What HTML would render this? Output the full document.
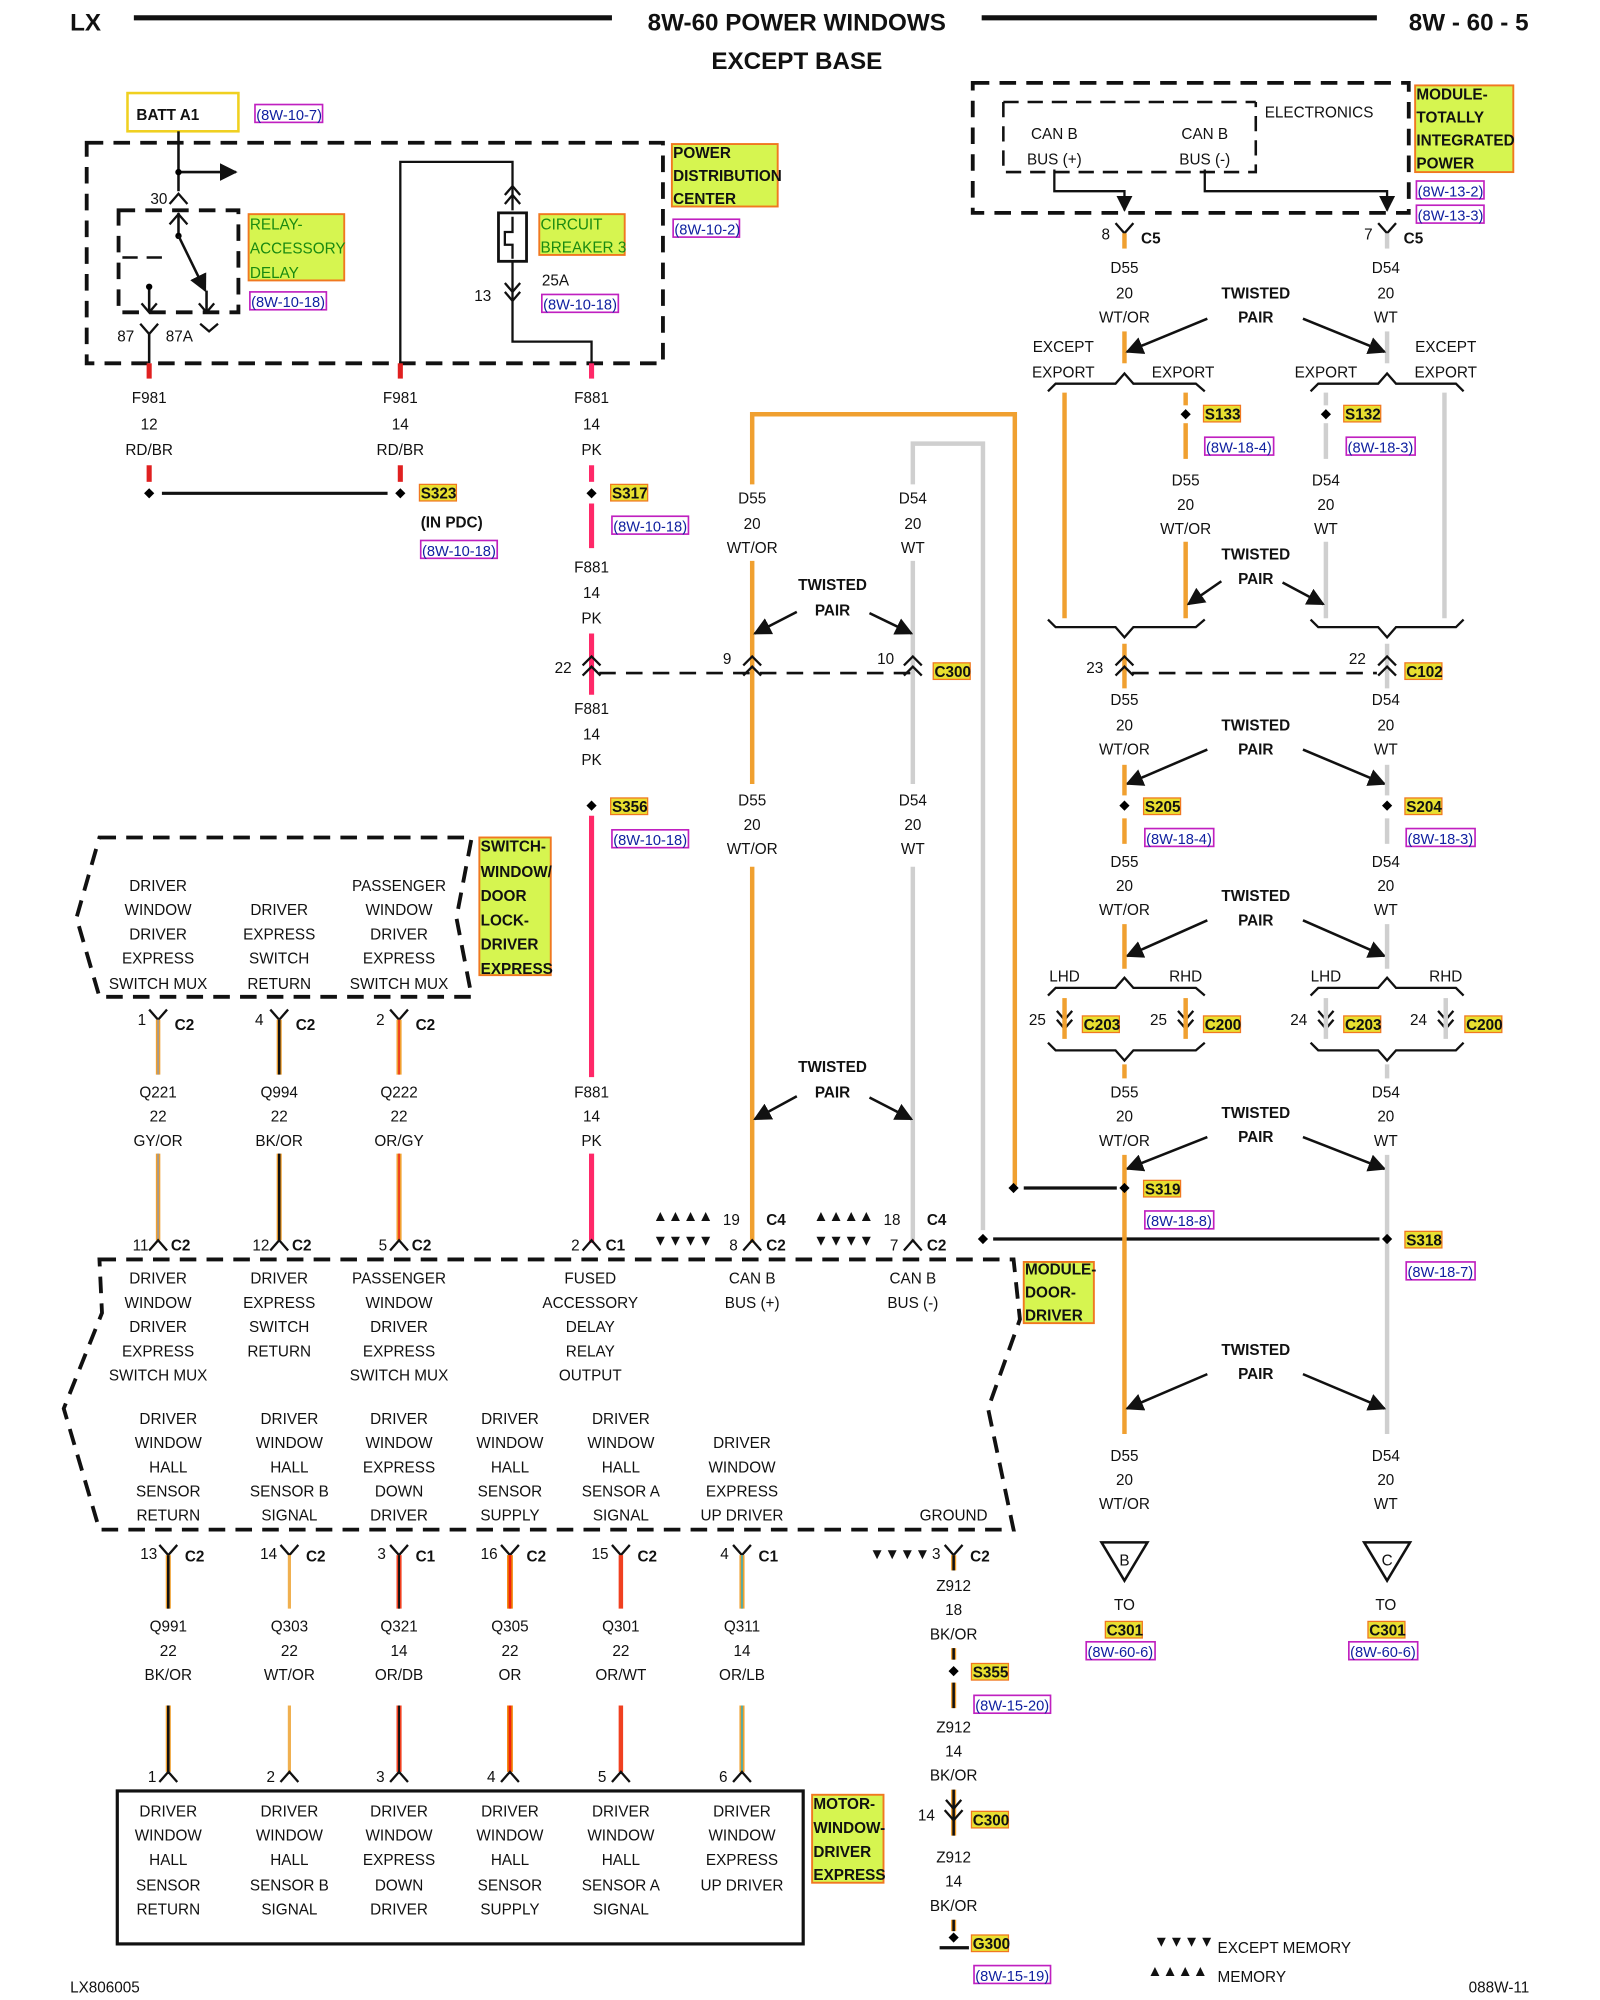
<!DOCTYPE html>
<html><head><meta charset="utf-8"><style>
html,body{margin:0;padding:0;background:#fff}
svg{display:block}
text{font-family:"Liberation Sans",sans-serif;font-size:12px;fill:#111}
.c{text-anchor:middle}
.b{font-weight:bold}
.t{font-size:19px;font-weight:bold}
.lab{fill:#d6f550;stroke:#f07820;stroke-width:1.5}
.conn{fill:#e8e030;stroke:#f07820;stroke-width:1}
.refr{fill:none;stroke:#c020c0;stroke-width:1.3}
.ref{fill:#1020a0;font-size:11.5px}
.d{fill:none;stroke:#111;stroke-width:3;stroke-dasharray:13 8}
.k{fill:none;stroke:#111;stroke-width:2}
.o{stroke:#f0a030;stroke-width:3.5;fill:none}
.g{stroke:#cfcfcf;stroke-width:3.5;fill:none}
.p{stroke:#ff2868;stroke-width:4;fill:none}
.r{stroke:#e02020;stroke-width:4;fill:none}
.ch{fill:none;stroke:#111;stroke-width:1.8}
.gl{fill:#1a8a10}
</style></head><body>
<svg width="1600" height="2000" viewBox="0 0 1255 1569" preserveAspectRatio="none" xmlns="http://www.w3.org/2000/svg">
<defs><marker id="ah" viewBox="0 0 10 10" refX="9" refY="5" markerWidth="7" markerHeight="7" orient="auto"><path d="M0,0L10,5L0,10z" fill="#111"/></marker></defs>

<!-- header -->
<text x="55" y="24" class="t">LX</text>
<line x1="105" y1="14" x2="480" y2="14" stroke="#111" stroke-width="4"/>
<text x="625" y="24" class="t c">8W-60 POWER WINDOWS</text>
<text x="625" y="54" class="t c">EXCEPT BASE</text>
<line x1="770" y1="14" x2="1080" y2="14" stroke="#111" stroke-width="4"/>
<text x="1105" y="24" class="t">8W - 60 - 5</text>

<!-- BATT A1 -->
<rect x="100" y="73" width="87" height="30" fill="none" stroke="#f0d020" stroke-width="2"/>
<text x="107" y="94" class="b" font-size="11">BATT A1</text>
<rect x="200" y="82" width="53" height="14" class="refr"/><text x="201" y="94" class="ref">(8W-10-7)</text>

<!-- PDC -->
<rect x="68" y="112" width="452" height="173" class="d"/>
<line x1="140" y1="103" x2="140" y2="150" class="k"/>
<line x1="140" y1="135" x2="185" y2="135" class="k" marker-end="url(#ah)"/>
<circle cx="140" cy="135" r="2.5"/>
<text x="118" y="160">30</text>
<path d="M133,160 L140,152 L147,160" class="ch"/>
<rect x="93" y="165" width="94" height="80" class="d"/>
<line x1="140" y1="167" x2="140" y2="185" class="k"/><circle cx="140" cy="185" r="2.5"/>
<path d="M133,176 L140,168 L147,176" class="ch"/>
<line x1="140" y1="185" x2="161" y2="228" class="k" marker-end="url(#ah)"/>
<line x1="96" y1="202" x2="133" y2="202" stroke="#111" stroke-width="2" stroke-dasharray="12 7"/>
<line x1="117" y1="225" x2="117" y2="245" class="k"/><circle cx="117" cy="225" r="2.5"/>
<path d="M111,238 L117,245 L123,238" class="ch"/>
<line x1="162" y1="228" x2="162" y2="245" class="k"/>
<path d="M156,238 L162,245 L168,238" class="ch"/>
<text x="92" y="268">87</text><text x="130" y="268">87A</text>
<path d="M110,254 L117,262 L124,254" class="ch"/>
<path d="M157,254 L164,260 L171,254" class="ch"/>
<line x1="117" y1="262" x2="117" y2="285" class="k"/>
<rect x="195" y="168" width="75" height="52" class="lab"/>
<text x="196" y="180" class="gl" font-size="12">RELAY-</text><text x="196" y="199" class="gl">ACCESSORY</text><text x="196" y="218" class="gl">DELAY</text>
<rect x="196" y="229" width="60" height="14" class="refr"/><text x="197" y="241" class="ref">(8W-10-18)</text>
<path d="M314,285 L314,127 L402,127 L402,165" class="k" style="stroke-width:1.8"/>
<path d="M396,153 L402,146 L408,153 M396,160 L402,153 L408,160" class="ch"/>
<rect x="391" y="167" width="22" height="38" fill="none" stroke="#111" stroke-width="2.2"/>
<path d="M402,170 L402,182 L396,182 L396,192 L402,192 L402,203" fill="none" stroke="#111" stroke-width="1.8"/>
<line x1="402" y1="205" x2="402" y2="236" class="k" style="stroke-width:1.8"/>
<path d="M396,222 L402,229 L408,222 M396,229 L402,236 L408,229" class="ch"/>
<text x="372" y="236">13</text><text x="425" y="224">25A</text>
<path d="M402,236 L402,268 L464,268 L464,285" class="k" style="stroke-width:1.8"/>
<rect x="423" y="168" width="67" height="32" class="lab"/>
<text x="424" y="180" class="gl">CIRCUIT</text><text x="424" y="198" class="gl">BREAKER 3</text>
<rect x="425" y="231" width="60" height="14" class="refr"/><text x="426" y="243" class="ref">(8W-10-18)</text>
<rect x="527" y="113" width="83" height="49" class="lab"/>
<text x="528" y="124" class="b" font-size="11.5">POWER</text><text x="528" y="142" class="b" font-size="11.5">DISTRIBUTION</text><text x="528" y="160" class="b" font-size="11.5">CENTER</text>
<rect x="528" y="172" width="52" height="14" class="refr"/><text x="529" y="184" class="ref">(8W-10-2)</text>

<!-- PDC outputs -->
<line x1="117" y1="285" x2="117" y2="297" class="r"/><line x1="314" y1="285" x2="314" y2="297" class="r"/><line x1="464" y1="285" x2="464" y2="297" class="p"/>
<text x="117" y="316" class="c">F981</text><text x="117" y="337" class="c">12</text><text x="117" y="357" class="c">RD/BR</text>
<text x="314" y="316" class="c">F981</text><text x="314" y="337" class="c">14</text><text x="314" y="357" class="c">RD/BR</text>
<text x="464" y="316" class="c">F881</text><text x="464" y="337" class="c">14</text><text x="464" y="357" class="c">PK</text>
<line x1="117" y1="365" x2="117" y2="378" class="r"/><line x1="314" y1="365" x2="314" y2="378" class="r"/>
<path d="M117,383l4,4l-4,4l-4,-4z M314,383l4,4l-4,4l-4,-4z"/>
<line x1="127" y1="387" x2="304" y2="387" stroke="#111" stroke-width="2.5"/>
<rect x="329" y="380" width="29" height="13" class="conn"/><text x="330" y="391" class="b" font-size="11">S323</text>
<text x="330" y="414" class="b" font-size="11">(IN PDC)</text>
<rect x="330" y="424" width="60" height="14" class="refr"/><text x="331" y="436" class="ref">(8W-10-18)</text>
<line x1="464" y1="365" x2="464" y2="378" class="p"/>
<path d="M464,383l4,4l-4,4l-4,-4z"/>
<line x1="464" y1="395" x2="464" y2="430" class="p"/>
<rect x="479" y="380" width="29" height="13" class="conn"/><text x="480" y="391" class="b" font-size="11">S317</text>
<rect x="480" y="405" width="60" height="14" class="refr"/><text x="481" y="417" class="ref">(8W-10-18)</text>
<text x="464" y="449" class="c">F881</text><text x="464" y="469" class="c">14</text><text x="464" y="489" class="c">PK</text>
<line x1="464" y1="497" x2="464" y2="545" class="p"/>
<path d="M457,522 L464,515 L471,522 M457,530 L464,523 L471,530" class="ch"/>
<text x="435" y="528">22</text>
<line x1="470" y1="528" x2="722" y2="528" stroke="#111" stroke-width="2" stroke-dasharray="13 8"/>
<text x="464" y="560" class="c">F881</text><text x="464" y="580" class="c">14</text><text x="464" y="600" class="c">PK</text>
<path d="M464,628l4,4l-4,4l-4,-4z"/>
<rect x="479" y="626" width="29" height="13" class="conn"/><text x="480" y="637" class="b" font-size="11">S356</text>
<rect x="480" y="651" width="60" height="14" class="refr"/><text x="481" y="663" class="ref">(8W-10-18)</text>
<line x1="464" y1="640" x2="464" y2="845" class="p"/>
<text x="464" y="861" class="c">F881</text><text x="464" y="880" class="c">14</text><text x="464" y="899" class="c">PK</text>
<line x1="464" y1="905" x2="464" y2="975" class="p"/>
<path d="M457,981 L464,973 L471,981" class="ch"/><text x="448" y="981">2</text><text x="475" y="981" class="b" font-size="11">C1</text>

<!-- CAN B wires middle -->
<path d="M590,380 L590,325 L796,325 L796,930" class="o"/>
<path d="M716,380 L716,348 L771,348 L771,965" class="g"/>
<text x="590" y="395" class="c">D55</text><text x="590" y="415" class="c">20</text><text x="590" y="434" class="c">WT/OR</text>
<text x="716" y="395" class="c">D54</text><text x="716" y="415" class="c">20</text><text x="716" y="434" class="c">WT</text>
<line x1="590" y1="440" x2="590" y2="615" class="o"/><line x1="716" y1="440" x2="716" y2="615" class="g"/>
<path d="M583,522 L590,515 L597,522 M583,530 L590,523 L597,530" class="ch"/><text x="567" y="521">9</text>
<path d="M709,522 L716,515 L723,522 M709,530 L716,523 L723,530" class="ch"/><text x="688" y="521">10</text>
<rect x="732" y="520" width="29" height="13" class="conn"/><text x="733" y="531" class="b" font-size="11">C300</text>
<text x="653" y="463" class="c b">TWISTED</text><text x="653" y="483" class="c b">PAIR</text>
<line x1="625" y1="480" x2="592" y2="497" class="k" marker-end="url(#ah)"/>
<line x1="682" y1="481" x2="715" y2="497" class="k" marker-end="url(#ah)"/>
<text x="590" y="632" class="c">D55</text><text x="590" y="651" class="c">20</text><text x="590" y="670" class="c">WT/OR</text>
<text x="716" y="632" class="c">D54</text><text x="716" y="651" class="c">20</text><text x="716" y="670" class="c">WT</text>
<line x1="590" y1="680" x2="590" y2="975" class="o"/><line x1="716" y1="680" x2="716" y2="975" class="g"/>
<text x="653" y="841" class="c b">TWISTED</text><text x="653" y="861" class="c b">PAIR</text>
<line x1="625" y1="860" x2="592" y2="878" class="k" marker-end="url(#ah)"/>
<line x1="682" y1="861" x2="715" y2="878" class="k" marker-end="url(#ah)"/>
<path d="M583,981 L590,973 L597,981" class="ch"/><text x="572" y="981">8</text><text x="601" y="981" class="b" font-size="11">C2</text>
<path d="M709,981 L716,973 L723,981" class="ch"/><text x="698" y="981">7</text><text x="727" y="981" class="b" font-size="11">C2</text>
<text x="512" y="958" font-size="11">▲▲▲▲</text><text x="567" y="961">19</text><text x="601" y="961" class="b" font-size="11">C4</text>
<text x="512" y="977" font-size="11">▼▼▼▼</text>
<text x="638" y="958" font-size="11">▲▲▲▲</text><text x="693" y="961">18</text><text x="727" y="961" class="b" font-size="11">C4</text>
<text x="638" y="977" font-size="11">▼▼▼▼</text>
<path d="M795,928l4,4l-4,4l-4,-4z M771,968l4,4l-4,4l-4,-4z"/>
<line x1="803" y1="932" x2="876" y2="932" stroke="#111" stroke-width="2.5"/>
<line x1="779" y1="972" x2="1082" y2="972" stroke="#111" stroke-width="2.5"/>

<!-- TIPM -->
<rect x="763" y="65" width="342" height="102" class="d"/>
<path d="M787,80 L985,80 M787,80 L787,135 L985,135 L985,80" stroke="#111" stroke-width="2" fill="none" stroke-dasharray="12 7"/>
<text x="992" y="92">ELECTRONICS</text>
<text x="827" y="109" class="c">CAN B</text><text x="827" y="129" class="c">BUS (+)</text>
<text x="945" y="109" class="c">CAN B</text><text x="945" y="129" class="c">BUS (-)</text>
<path d="M827,133 L827,150 L882,150 L882,165" fill="none" stroke="#111" stroke-width="1.8" marker-end="url(#ah)"/>
<path d="M945,133 L945,150 L1088,150 L1088,165" fill="none" stroke="#111" stroke-width="1.8" marker-end="url(#ah)"/>
<rect x="1110" y="67" width="77" height="68" class="lab"/>
<text x="1111" y="78" class="b" font-size="11">MODULE-</text><text x="1111" y="96" class="b" font-size="11">TOTALLY</text><text x="1111" y="114" class="b" font-size="11">INTEGRATED</text><text x="1111" y="132" class="b" font-size="11">POWER</text>
<rect x="1111" y="142" width="53" height="14" class="refr"/><text x="1112" y="154" class="ref">(8W-13-2)</text>
<rect x="1111" y="161" width="53" height="14" class="refr"/><text x="1112" y="173" class="ref">(8W-13-3)</text>
<path d="M875,175 L882,183 L889,175 M1081,175 L1088,183 L1095,175" class="ch"/>
<text x="864" y="188">8</text><text x="895" y="191" class="b" font-size="11">C5</text>
<text x="1070" y="188">7</text><text x="1101" y="191" class="b" font-size="11">C5</text>
<line x1="882" y1="183" x2="882" y2="195" class="o"/><line x1="1088" y1="183" x2="1088" y2="195" class="g"/>
<text x="882" y="214" class="c">D55</text><text x="882" y="234" class="c">20</text><text x="882" y="253" class="c">WT/OR</text>
<text x="1087" y="214" class="c">D54</text><text x="1087" y="234" class="c">20</text><text x="1087" y="253" class="c">WT</text>
<line x1="882" y1="260" x2="882" y2="285" class="o"/><line x1="1088" y1="260" x2="1088" y2="285" class="g"/>
<text x="985" y="234" class="c b">TWISTED</text><text x="985" y="253" class="c b">PAIR</text>
<line x1="947" y1="250" x2="884" y2="276" class="k" marker-end="url(#ah)"/>
<line x1="1022" y1="250" x2="1086" y2="276" class="k" marker-end="url(#ah)"/>
<text x="834" y="276" class="c">EXCEPT</text><text x="834" y="296" class="c">EXPORT</text><text x="928" y="296" class="c">EXPORT</text>
<text x="1040" y="296" class="c">EXPORT</text><text x="1134" y="276" class="c">EXCEPT</text><text x="1134" y="296" class="c">EXPORT</text>
<path d="M822,307 L828,301 L875,301 L882,293 L889,301 L938,301 L945,307" class="ch"/>
<path d="M1028,307 L1034,301 L1081,301 L1088,293 L1095,301 L1142,301 L1148,307" class="ch"/>
<line x1="835" y1="308" x2="835" y2="485" class="o"/>
<line x1="1133" y1="308" x2="1133" y2="485" class="g"/>
<line x1="930" y1="308" x2="930" y2="318" class="o"/><line x1="930" y1="332" x2="930" y2="360" class="o"/>
<line x1="1040" y1="308" x2="1040" y2="318" class="g"/><line x1="1040" y1="332" x2="1040" y2="360" class="g"/>
<path d="M930,321l4,4l-4,4l-4,-4z M1040,321l4,4l-4,4l-4,-4z"/>
<rect x="944" y="318" width="29" height="13" class="conn"/><text x="945" y="329" class="b" font-size="11">S133</text>
<rect x="1054" y="318" width="29" height="13" class="conn"/><text x="1055" y="329" class="b" font-size="11">S132</text>
<rect x="945" y="343" width="54" height="14" class="refr"/><text x="946" y="355" class="ref">(8W-18-4)</text>
<rect x="1056" y="343" width="54" height="14" class="refr"/><text x="1057" y="355" class="ref">(8W-18-3)</text>
<text x="930" y="381" class="c">D55</text><text x="930" y="400" class="c">20</text><text x="930" y="419" class="c">WT/OR</text>
<text x="1040" y="381" class="c">D54</text><text x="1040" y="400" class="c">20</text><text x="1040" y="419" class="c">WT</text>
<line x1="930" y1="425" x2="930" y2="485" class="o"/><line x1="1040" y1="425" x2="1040" y2="485" class="g"/>
<text x="985" y="439" class="c b">TWISTED</text><text x="985" y="458" class="c b">PAIR</text>
<line x1="958" y1="456" x2="932" y2="474" class="k" marker-end="url(#ah)"/>
<line x1="1006" y1="457" x2="1038" y2="474" class="k" marker-end="url(#ah)"/>
<path d="M822,486 L828,492 L875,492 L882,500 L889,492 L938,492 L945,486" class="ch"/>
<path d="M1028,486 L1034,492 L1081,492 L1088,500 L1095,492 L1142,492 L1148,486" class="ch"/>
<line x1="882" y1="505" x2="882" y2="540" class="o"/><line x1="1088" y1="505" x2="1088" y2="540" class="g"/>
<path d="M875,522 L882,515 L889,522 M875,530 L882,523 L889,530" class="ch"/><text x="852" y="528">23</text>
<path d="M1081,522 L1088,515 L1095,522 M1081,530 L1088,523 L1095,530" class="ch"/><text x="1058" y="521">22</text>
<line x1="888" y1="528" x2="1080" y2="528" stroke="#111" stroke-width="2" stroke-dasharray="13 8"/>
<rect x="1102" y="520" width="29" height="13" class="conn"/><text x="1103" y="531" class="b" font-size="11">C102</text>
<text x="882" y="553" class="c">D55</text><text x="882" y="573" class="c">20</text><text x="882" y="592" class="c">WT/OR</text>
<text x="1087" y="553" class="c">D54</text><text x="1087" y="573" class="c">20</text><text x="1087" y="592" class="c">WT</text>
<text x="985" y="573" class="c b">TWISTED</text><text x="985" y="592" class="c b">PAIR</text>
<line x1="947" y1="588" x2="884" y2="615" class="k" marker-end="url(#ah)"/>
<line x1="1022" y1="588" x2="1086" y2="615" class="k" marker-end="url(#ah)"/>
<line x1="882" y1="600" x2="882" y2="624" class="o"/><line x1="1088" y1="600" x2="1088" y2="624" class="g"/>
<path d="M882,628l4,4l-4,4l-4,-4z M1088,628l4,4l-4,4l-4,-4z"/>
<line x1="882" y1="642" x2="882" y2="662" class="o"/><line x1="1088" y1="642" x2="1088" y2="662" class="g"/>
<rect x="897" y="626" width="29" height="13" class="conn"/><text x="898" y="637" class="b" font-size="11">S205</text>
<rect x="1102" y="626" width="29" height="13" class="conn"/><text x="1103" y="637" class="b" font-size="11">S204</text>
<rect x="898" y="650" width="54" height="14" class="refr"/><text x="899" y="662" class="ref">(8W-18-4)</text>
<rect x="1103" y="650" width="54" height="14" class="refr"/><text x="1104" y="662" class="ref">(8W-18-3)</text>
<text x="882" y="680" class="c">D55</text><text x="882" y="699" class="c">20</text><text x="882" y="718" class="c">WT/OR</text>
<text x="1087" y="680" class="c">D54</text><text x="1087" y="699" class="c">20</text><text x="1087" y="718" class="c">WT</text>
<text x="985" y="707" class="c b">TWISTED</text><text x="985" y="726" class="c b">PAIR</text>
<line x1="947" y1="722" x2="884" y2="750" class="k" marker-end="url(#ah)"/>
<line x1="1022" y1="722" x2="1086" y2="750" class="k" marker-end="url(#ah)"/>
<line x1="882" y1="725" x2="882" y2="760" class="o"/><line x1="1088" y1="725" x2="1088" y2="760" class="g"/>
<text x="835" y="770" class="c">LHD</text><text x="930" y="770" class="c">RHD</text>
<text x="1040" y="770" class="c">LHD</text><text x="1134" y="770" class="c">RHD</text>
<path d="M822,781 L828,775 L875,775 L882,767 L889,775 L938,775 L945,781" class="ch"/>
<path d="M1028,781 L1034,775 L1081,775 L1088,767 L1095,775 L1142,775 L1148,781" class="ch"/>
<g class="ch">
<path d="M829,793 L835,800 L841,793 M829,800 L835,807 L841,800"/>
<path d="M924,793 L930,800 L936,793 M924,800 L930,807 L936,800"/>
<path d="M1034,793 L1040,800 L1046,793 M1034,800 L1040,807 L1046,800"/>
<path d="M1128,793 L1134,800 L1140,793 M1128,800 L1134,807 L1140,800"/>
</g>
<line x1="835" y1="783" x2="835" y2="815" class="o"/><line x1="930" y1="783" x2="930" y2="815" class="o"/>
<line x1="1040" y1="783" x2="1040" y2="815" class="g"/><line x1="1134" y1="783" x2="1134" y2="815" class="g"/>
<text x="807" y="804">25</text><text x="902" y="804">25</text><text x="1012" y="804">24</text><text x="1106" y="804">24</text>
<rect x="849" y="797" width="29" height="13" class="conn"/><text x="850" y="808" class="b" font-size="11">C203</text>
<rect x="944" y="797" width="29" height="13" class="conn"/><text x="945" y="808" class="b" font-size="11">C200</text>
<rect x="1054" y="797" width="29" height="13" class="conn"/><text x="1055" y="808" class="b" font-size="11">C203</text>
<rect x="1149" y="797" width="29" height="13" class="conn"/><text x="1150" y="808" class="b" font-size="11">C200</text>
<path d="M822,818 L828,824 L875,824 L882,832 L889,824 L938,824 L945,818" class="ch"/>
<path d="M1028,818 L1034,824 L1081,824 L1088,832 L1095,824 L1142,824 L1148,818" class="ch"/>
<line x1="882" y1="835" x2="882" y2="846" class="o"/><line x1="1088" y1="835" x2="1088" y2="846" class="g"/>
<text x="882" y="861" class="c">D55</text><text x="882" y="880" class="c">20</text><text x="882" y="899" class="c">WT/OR</text>
<text x="1087" y="861" class="c">D54</text><text x="1087" y="880" class="c">20</text><text x="1087" y="899" class="c">WT</text>
<text x="985" y="877" class="c b">TWISTED</text><text x="985" y="896" class="c b">PAIR</text>
<line x1="947" y1="892" x2="884" y2="917" class="k" marker-end="url(#ah)"/>
<line x1="1022" y1="892" x2="1086" y2="917" class="k" marker-end="url(#ah)"/>
<line x1="882" y1="906" x2="882" y2="1125" class="o"/><line x1="1088" y1="906" x2="1088" y2="1125" class="g"/>
<path d="M882,928l4,4l-4,4l-4,-4z M1088,968l4,4l-4,4l-4,-4z"/>
<rect x="897" y="926" width="29" height="13" class="conn"/><text x="898" y="937" class="b" font-size="11">S319</text>
<rect x="898" y="950" width="54" height="14" class="refr"/><text x="899" y="962" class="ref">(8W-18-8)</text>
<rect x="1102" y="966" width="29" height="13" class="conn"/><text x="1103" y="977" class="b" font-size="11">S318</text>
<rect x="1103" y="990" width="54" height="14" class="refr"/><text x="1104" y="1002" class="ref">(8W-18-7)</text>
<text x="985" y="1063" class="c b">TWISTED</text><text x="985" y="1082" class="c b">PAIR</text>
<line x1="947" y1="1078" x2="884" y2="1105" class="k" marker-end="url(#ah)"/>
<line x1="1022" y1="1078" x2="1086" y2="1105" class="k" marker-end="url(#ah)"/>
<text x="882" y="1146" class="c">D55</text><text x="882" y="1165" class="c">20</text><text x="882" y="1184" class="c">WT/OR</text>
<text x="1087" y="1146" class="c">D54</text><text x="1087" y="1165" class="c">20</text><text x="1087" y="1184" class="c">WT</text>
<path d="M864,1210 L900,1210 L882,1240 z" fill="none" stroke="#111" stroke-width="2"/><text x="882" y="1228" class="c" font-size="11">B</text>
<path d="M1070,1210 L1106,1210 L1088,1240 z" fill="none" stroke="#111" stroke-width="2"/><text x="1088" y="1228" class="c" font-size="11">C</text>
<text x="882" y="1263" class="c">TO</text><text x="1087" y="1263" class="c">TO</text>
<rect x="867" y="1272" width="29" height="13" class="conn"/><text x="868" y="1283" class="b" font-size="11">C301</text>
<rect x="1073" y="1272" width="29" height="13" class="conn"/><text x="1074" y="1283" class="b" font-size="11">C301</text>
<rect x="852" y="1288" width="54" height="14" class="refr"/><text x="853" y="1300" class="ref">(8W-60-6)</text>
<rect x="1058" y="1288" width="54" height="14" class="refr"/><text x="1059" y="1300" class="ref">(8W-60-6)</text>

<!-- switch box -->
<path d="M78,657 L370,657 L358,720 L370,782 L78,782 L60,720 Z" class="d"/>
<rect x="376" y="657" width="56" height="108" class="lab"/>
<text x="377" y="668" class="b" font-size="11">SWITCH-</text><text x="377" y="688" class="b" font-size="11">WINDOW/</text><text x="377" y="707" class="b" font-size="11">DOOR</text><text x="377" y="726" class="b" font-size="11">LOCK-</text><text x="377" y="745" class="b" font-size="11">DRIVER</text><text x="377" y="764" class="b" font-size="11">EXPRESS</text>
<g class="c">
<text x="124" y="699">DRIVER</text><text x="124" y="718">WINDOW</text><text x="124" y="737">DRIVER</text><text x="124" y="756">EXPRESS</text><text x="124" y="776">SWITCH MUX</text>
<text x="219" y="718">DRIVER</text><text x="219" y="737">EXPRESS</text><text x="219" y="756">SWITCH</text><text x="219" y="776">RETURN</text>
<text x="313" y="699">PASSENGER</text><text x="313" y="718">WINDOW</text><text x="313" y="737">DRIVER</text><text x="313" y="756">EXPRESS</text><text x="313" y="776">SWITCH MUX</text>
</g>
<g class="ch"><path d="M117,792 L124,800 L131,792 M212,792 L219,800 L226,792 M306,792 L313,800 L320,792"/></g>
<text x="108" y="804">1</text><text x="200" y="804">4</text><text x="295" y="804">2</text>
<text x="137" y="808" class="b" font-size="11">C2</text><text x="232" y="808" class="b" font-size="11">C2</text><text x="326" y="808" class="b" font-size="11">C2</text>
<line x1="124" y1="800" x2="124" y2="843" stroke="#f0a030" stroke-width="3.5"/><line x1="124" y1="800" x2="124" y2="843" stroke="#999" stroke-width="1.2"/>
<line x1="219" y1="800" x2="219" y2="843" stroke="#f0a030" stroke-width="4"/><line x1="219" y1="800" x2="219" y2="843" stroke="#111" stroke-width="2"/>
<line x1="313" y1="800" x2="313" y2="843" stroke="#f0a030" stroke-width="4"/><line x1="313" y1="800" x2="313" y2="843" stroke="#f04020" stroke-width="1.5"/>
<text x="124" y="861" class="c">Q221</text><text x="124" y="880" class="c">22</text><text x="124" y="899" class="c">GY/OR</text>
<text x="219" y="861" class="c">Q994</text><text x="219" y="880" class="c">22</text><text x="219" y="899" class="c">BK/OR</text>
<text x="313" y="861" class="c">Q222</text><text x="313" y="880" class="c">22</text><text x="313" y="899" class="c">OR/GY</text>
<line x1="124" y1="905" x2="124" y2="973" stroke="#f0a030" stroke-width="3.5"/><line x1="124" y1="905" x2="124" y2="973" stroke="#999" stroke-width="1.2"/>
<line x1="219" y1="905" x2="219" y2="973" stroke="#f0a030" stroke-width="4"/><line x1="219" y1="905" x2="219" y2="973" stroke="#111" stroke-width="2"/>
<line x1="313" y1="905" x2="313" y2="973" stroke="#f0a030" stroke-width="4"/><line x1="313" y1="905" x2="313" y2="973" stroke="#f04020" stroke-width="1.5"/>
<g class="ch"><path d="M117,981 L124,973 L131,981 M212,981 L219,973 L226,981 M306,981 L313,973 L320,981"/></g>
<text x="104" y="981">11</text><text x="198" y="981">12</text><text x="297" y="981">5</text>
<text x="134" y="981" class="b" font-size="11">C2</text><text x="229" y="981" class="b" font-size="11">C2</text><text x="323" y="981" class="b" font-size="11">C2</text>

<!-- door module -->
<path d="M78,988 L795,988 L800,1035 L775,1105 L795,1200 L78,1200 L50,1105 L80,1030 Z" class="d"/>
<rect x="803" y="990" width="55" height="48" class="lab"/>
<text x="804" y="1000" class="b" font-size="11">MODULE-</text><text x="804" y="1018" class="b" font-size="11">DOOR-</text><text x="804" y="1036" class="b" font-size="11">DRIVER</text>
<g class="c">
<text x="124" y="1007">DRIVER</text><text x="124" y="1026">WINDOW</text><text x="124" y="1045">DRIVER</text><text x="124" y="1064">EXPRESS</text><text x="124" y="1083">SWITCH MUX</text>
<text x="219" y="1007">DRIVER</text><text x="219" y="1026">EXPRESS</text><text x="219" y="1045">SWITCH</text><text x="219" y="1064">RETURN</text>
<text x="313" y="1007">PASSENGER</text><text x="313" y="1026">WINDOW</text><text x="313" y="1045">DRIVER</text><text x="313" y="1064">EXPRESS</text><text x="313" y="1083">SWITCH MUX</text>
<text x="463" y="1007">FUSED</text><text x="463" y="1026">ACCESSORY</text><text x="463" y="1045">DELAY</text><text x="463" y="1064">RELAY</text><text x="463" y="1083">OUTPUT</text>
<text x="590" y="1007">CAN B</text><text x="590" y="1026">BUS (+)</text>
<text x="716" y="1007">CAN B</text><text x="716" y="1026">BUS (-)</text>
<text x="132" y="1117">DRIVER</text><text x="132" y="1136">WINDOW</text><text x="132" y="1155">HALL</text><text x="132" y="1174">SENSOR</text><text x="132" y="1193">RETURN</text>
<text x="227" y="1117">DRIVER</text><text x="227" y="1136">WINDOW</text><text x="227" y="1155">HALL</text><text x="227" y="1174">SENSOR B</text><text x="227" y="1193">SIGNAL</text>
<text x="313" y="1117">DRIVER</text><text x="313" y="1136">WINDOW</text><text x="313" y="1155">EXPRESS</text><text x="313" y="1174">DOWN</text><text x="313" y="1193">DRIVER</text>
<text x="400" y="1117">DRIVER</text><text x="400" y="1136">WINDOW</text><text x="400" y="1155">HALL</text><text x="400" y="1174">SENSOR</text><text x="400" y="1193">SUPPLY</text>
<text x="487" y="1117">DRIVER</text><text x="487" y="1136">WINDOW</text><text x="487" y="1155">HALL</text><text x="487" y="1174">SENSOR A</text><text x="487" y="1193">SIGNAL</text>
<text x="582" y="1136">DRIVER</text><text x="582" y="1155">WINDOW</text><text x="582" y="1174">EXPRESS</text><text x="582" y="1193">UP DRIVER</text>
<text x="748" y="1193">GROUND</text>
</g>

<!-- lower connectors -->
<g class="ch"><path d="M125,1212 L132,1220 L139,1212 M220,1212 L227,1220 L234,1212 M306,1212 L313,1220 L320,1212 M393,1212 L400,1220 L407,1212 M480,1212 L487,1220 L494,1212 M575,1212 L582,1220 L589,1212 M741,1212 L748,1220 L755,1212"/></g>
<g font-size="11"><text x="110" y="1223">13</text><text x="204" y="1223">14</text><text x="296" y="1223">3</text><text x="377" y="1223">16</text><text x="464" y="1223">15</text><text x="565" y="1223">4</text><text x="731" y="1223">3</text>
<text x="682" y="1223">▼▼▼▼</text></g>
<g class="b" font-size="11"><text x="145" y="1225">C2</text><text x="240" y="1225">C2</text><text x="326" y="1225">C1</text><text x="413" y="1225">C2</text><text x="500" y="1225">C2</text><text x="595" y="1225">C1</text><text x="761" y="1225">C2</text></g>
<g>
<path d="M132,1220V1262M132,1338V1390" stroke="#f0a030" stroke-width="4"/><path d="M132,1220V1262M132,1338V1390" stroke="#111" stroke-width="2"/>
<path d="M227,1220V1262M227,1338V1390" stroke="#f0b050" stroke-width="2.5"/>
<path d="M313,1220V1262M313,1338V1390" stroke="#f04020" stroke-width="4"/><path d="M313,1220V1262M313,1338V1390" stroke="#111" stroke-width="1.5"/>
<path d="M400,1220V1262M400,1338V1390" stroke="#f08000" stroke-width="4.5"/><path d="M400,1220V1262M400,1338V1390" stroke="#f02010" stroke-width="2"/>
<path d="M487,1220V1262M487,1338V1390" stroke="#f04020" stroke-width="3.5"/>
<path d="M582,1220V1262M582,1338V1390" stroke="#f0a030" stroke-width="4"/><path d="M582,1220V1262M582,1338V1390" stroke="#30b0c0" stroke-width="1.2"/>
</g>
<g class="c">
<text x="132" y="1280">Q991</text><text x="132" y="1299">22</text><text x="132" y="1318">BK/OR</text>
<text x="227" y="1280">Q303</text><text x="227" y="1299">22</text><text x="227" y="1318">WT/OR</text>
<text x="313" y="1280">Q321</text><text x="313" y="1299">14</text><text x="313" y="1318">OR/DB</text>
<text x="400" y="1280">Q305</text><text x="400" y="1299">22</text><text x="400" y="1318">OR</text>
<text x="487" y="1280">Q301</text><text x="487" y="1299">22</text><text x="487" y="1318">OR/WT</text>
<text x="582" y="1280">Q311</text><text x="582" y="1299">14</text><text x="582" y="1318">OR/LB</text>
</g>
<g class="ch"><path d="M125,1398 L132,1390 L139,1398 M220,1398 L227,1390 L234,1398 M306,1398 L313,1390 L320,1398 M393,1398 L400,1390 L407,1398 M480,1398 L487,1390 L494,1398 M575,1398 L582,1390 L589,1398"/></g>
<g font-size="11"><text x="116" y="1398">1</text><text x="209" y="1398">2</text><text x="295" y="1398">3</text><text x="382" y="1398">4</text><text x="469" y="1398">5</text><text x="564" y="1398">6</text></g>
<rect x="92" y="1405" width="538" height="120" fill="none" stroke="#111" stroke-width="2.5"/>
<g class="c">
<text x="132" y="1425">DRIVER</text><text x="132" y="1444">WINDOW</text><text x="132" y="1463">HALL</text><text x="132" y="1483">SENSOR</text><text x="132" y="1502">RETURN</text>
<text x="227" y="1425">DRIVER</text><text x="227" y="1444">WINDOW</text><text x="227" y="1463">HALL</text><text x="227" y="1483">SENSOR B</text><text x="227" y="1502">SIGNAL</text>
<text x="313" y="1425">DRIVER</text><text x="313" y="1444">WINDOW</text><text x="313" y="1463">EXPRESS</text><text x="313" y="1483">DOWN</text><text x="313" y="1502">DRIVER</text>
<text x="400" y="1425">DRIVER</text><text x="400" y="1444">WINDOW</text><text x="400" y="1463">HALL</text><text x="400" y="1483">SENSOR</text><text x="400" y="1502">SUPPLY</text>
<text x="487" y="1425">DRIVER</text><text x="487" y="1444">WINDOW</text><text x="487" y="1463">HALL</text><text x="487" y="1483">SENSOR A</text><text x="487" y="1502">SIGNAL</text>
<text x="582" y="1425">DRIVER</text><text x="582" y="1444">WINDOW</text><text x="582" y="1463">EXPRESS</text><text x="582" y="1483">UP DRIVER</text>
</g>
<rect x="637" y="1408" width="56" height="69" class="lab"/>
<text x="638" y="1419" class="b" font-size="11">MOTOR-</text><text x="638" y="1438" class="b" font-size="11">WINDOW-</text><text x="638" y="1457" class="b" font-size="11">DRIVER</text><text x="638" y="1475" class="b" font-size="11">EXPRESS</text>

<!-- ground -->
<path d="M748,1220V1232" stroke="#f0a030" stroke-width="4"/><path d="M748,1220V1232" stroke="#111" stroke-width="2"/>
<g class="c"><text x="748" y="1248">Z912</text><text x="748" y="1267">18</text><text x="748" y="1286">BK/OR</text>
<text x="748" y="1359">Z912</text><text x="748" y="1378">14</text><text x="748" y="1397">BK/OR</text>
<text x="748" y="1461">Z912</text><text x="748" y="1480">14</text><text x="748" y="1499">BK/OR</text></g>
<path d="M748,1293V1302M748,1320V1340M748,1404V1440M748,1506V1515" stroke="#f0a030" stroke-width="4"/>
<path d="M748,1293V1302M748,1320V1340M748,1404V1440M748,1506V1515" stroke="#111" stroke-width="2"/>
<path d="M748,1307l4,4l-4,4l-4,-4z M748,1516l4,4l-4,4l-4,-4z"/>
<rect x="762" y="1305" width="29" height="13" class="conn"/><text x="763" y="1316" class="b" font-size="11">S355</text>
<rect x="764" y="1330" width="60" height="14" class="refr"/><text x="765" y="1342" class="ref">(8W-15-20)</text>
<path d="M742,1412 L748,1419 L754,1412 M741,1420 L748,1428 L755,1420" class="ch"/>
<text x="720" y="1428">14</text>
<rect x="762" y="1421" width="29" height="13" class="conn"/><text x="763" y="1432" class="b" font-size="11">C300</text>
<line x1="737" y1="1528" x2="760" y2="1528" stroke="#111" stroke-width="2.5"/>
<rect x="762" y="1518" width="29" height="13" class="conn"/><text x="763" y="1529" class="b" font-size="11">G300</text>
<rect x="764" y="1542" width="60" height="14" class="refr"/><text x="765" y="1554" class="ref">(8W-15-19)</text>

<!-- legend -->
<text x="905" y="1527" font-size="11">▼▼▼▼</text><text x="955" y="1532">EXCEPT MEMORY</text>
<text x="900" y="1550" font-size="11">▲▲▲▲</text><text x="955" y="1555">MEMORY</text>
<text x="55" y="1563" font-size="11">LX806005</text>
<text x="1152" y="1563" font-size="11">088W-11</text>
</svg>
</body></html>
